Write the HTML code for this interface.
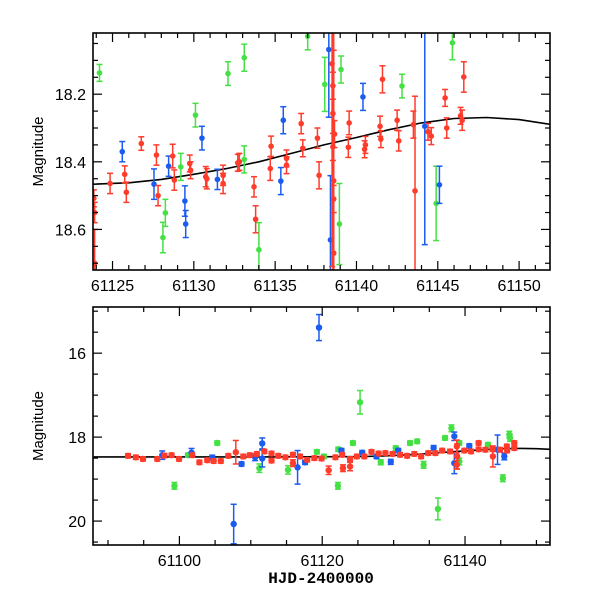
<!DOCTYPE html>
<html><head><meta charset="utf-8"><style>
body{margin:0;background:#fff;}
svg{display:block;font-family:"Liberation Sans",sans-serif;}
</style></head><body>
<svg id="chart" width="600" height="600" xmlns="http://www.w3.org/2000/svg"></svg>
<script>
// ---- TOP PANEL DATA ----
const topRedDays=[61123.85,61123.9,61123.9,61124.85,61125.75,61125.85,61126.77,61127.7,61127.8,61128.7,61128.8,61129.75,61129.8,61130.73,61130.8,61131.8,61131.8,61132.7,61132.8,61133.7,61133.8,61134.7,61134.75,61135.7,61135.7,61136.6,61136.7,61137.6,61137.7,61138.5,61138.55,61138.55,61138.65,61138.55,61138.6,61138.6,61138.6,61139.55,61139.5,61140.5,61140.55,61141.45,61141.5,61141.6,61142.5,61142.6,61143.5,61143.6,61144.4,61144.6,61145.45,61145.55,61146.4,61146.5,61146.6];
const topRedMags=[18.508,18.55,18.70,18.464,18.437,18.49,18.346,18.38,18.50,18.383,18.454,18.405,18.425,18.444,18.45,18.44,18.464,18.403,18.40,18.474,18.57,18.42,18.354,18.41,18.39,18.287,18.36,18.33,18.44,18.11,18.175,18.257,18.318,18.356,18.456,18.51,18.67,18.285,18.357,18.363,18.35,18.295,18.333,18.156,18.277,18.338,18.29,18.486,18.311,18.324,18.211,18.30,18.264,18.277,18.149];
const topRedErrs=[0.025,0.03,0.1,0.03,0.025,0.03,0.02,0.03,0.03,0.035,0.03,0.025,0.025,0.03,0.03,0.03,0.03,0.025,0.025,0.03,0.04,0.035,0.03,0.025,0.025,0.03,0.025,0.03,0.04,0.6,0.04,0.6,0.04,0.04,0.6,0.04,0.6,0.035,0.03,0.025,0.025,0.03,0.025,0.04,0.03,0.03,0.04,0.28,0.025,0.025,0.025,0.03,0.025,0.03,0.045];
const topBlueDays=[61125.6,61127.55,61128.45,61129.45,61129.5,61130.5,61131.45,61135.35,61135.5,61138.3,61138.4,61140.4,61144.2,61145.1];
const topBlueMags=[18.37,18.466,18.413,18.516,18.584,18.33,18.452,18.457,18.277,18.068,18.631,18.208,18.295,18.468];
const topBlueErrs=[0.03,0.045,0.03,0.045,0.04,0.035,0.03,0.04,0.04,0.2,0.19,0.04,0.35,0.055];
const topGreenDays=[61124.2,61128.1,61128.25,61129.2,61130.1,61132.1,61133.1,61133.1,61134.0,61137.0,61138.05,61139.05,61138.95,61142.8,61144.9,61145.9];
const topGreenMags=[18.137,18.624,18.551,18.415,18.262,18.139,18.092,18.393,18.66,18.029,18.171,18.127,18.584,18.176,18.523,18.048];
const topGreenErrs=[0.025,0.045,0.04,0.04,0.035,0.035,0.04,0.04,0.08,0.04,0.08,0.04,0.12,0.035,0.11,0.05];
// ---- BOTTOM PANEL DATA ----
const botRedDays=[61092.8,61093.9,61094.9,61096.9,61097.9,61098.9,61099.95,61101.8,61102.8,61103.9,61104.8,61105.8,61106.85,61107.9,61108.95,61109.85,61110.85,61111.9,61112.9,61112.9,61113.85,61114.85,61115.9,61115.9,61116.9,61117.9,61118.9,61119.9,61120.9,61121.85,61122.8,61122.9,61123.9,61123.9,61124.85,61125.9,61126.9,61127.9,61128.85,61129.85,61130.9,61131.9,61132.9,61133.85,61134.85,61135.85,61136.8,61137.9,61138.85,61138.9,61138.85,61139.9,61140.85,61141.9,61141.9,61142.85,61143.85,61143.9,61144.9,61145.85,61145.9,61146.9,61146.9];
const botRedMags=[18.445,18.48,18.52,18.52,18.44,18.43,18.52,18.43,18.6,18.55,18.57,18.57,18.445,18.36,18.46,18.43,18.4,18.34,18.39,18.56,18.445,18.48,18.42,18.62,18.46,18.54,18.5,18.51,18.79,18.48,18.42,18.74,18.52,18.7,18.46,18.46,18.35,18.39,18.38,18.4,18.42,18.445,18.4,18.46,18.38,18.38,18.32,18.34,18.22,18.46,18.66,18.32,18.34,18.29,18.14,18.3,18.29,18.46,18.3,18.22,18.32,18.26,18.14];
const botRedErrs=[0.05,0.05,0.05,0.05,0.05,0.05,0.05,0.05,0.05,0.05,0.05,0.05,0.05,0.28,0.05,0.05,0.05,0.05,0.05,0.05,0.05,0.05,0.05,0.08,0.05,0.05,0.05,0.05,0.1,0.05,0.05,0.08,0.05,0.1,0.05,0.05,0.05,0.05,0.05,0.05,0.05,0.05,0.05,0.05,0.05,0.05,0.05,0.05,0.15,0.3,0.1,0.05,0.05,0.05,0.05,0.05,0.05,0.25,0.05,0.05,0.05,0.05,0.05];
const botBlueDays=[61097.6,61101.7,61104.6,61107.6,61108.7,61110.6,61111.6,61111.6,61116.55,61117.6,61119.55,61122.7,61125.6,61127.6,61129.6,61130.65,61135.6,61138.5,61138.5,61140.6,61144.55,61145.5];
const botBlueMags=[18.43,18.37,18.49,20.07,18.64,18.48,18.15,18.51,18.72,18.6,15.39,18.32,18.37,18.46,18.59,18.32,18.26,18.62,17.98,18.21,18.3,18.46];
const botBlueErrs=[0.1,0.1,0.06,0.47,0.05,0.08,0.13,0.2,0.4,0.05,0.31,0.05,0.05,0.05,0.06,0.05,0.06,0.25,0.1,0.05,0.35,0.08];
const botGreenDays=[61099.3,61101.2,61105.3,61111.2,61115.2,61119.25,61120.25,61122.25,61122.2,61124.3,61125.3,61128.2,61130.3,61132.3,61133.3,61134.2,61136.2,61137.2,61138.1,61139.2,61139.2,61143.2,61145.3,61146.2,61146.3];
const botGreenMags=[19.16,18.43,18.14,18.74,18.78,18.35,18.46,18.29,19.16,18.14,17.17,18.6,18.26,18.14,18.1,18.66,19.71,18.02,17.79,18.14,18.58,18.18,18.98,17.94,18.02];
const botGreenErrs=[0.08,0.05,0.05,0.1,0.1,0.05,0.05,0.05,0.08,0.05,0.28,0.06,0.05,0.05,0.05,0.08,0.26,0.05,0.08,0.05,0.08,0.05,0.08,0.08,0.08];
// ---- MODEL CURVE ----
const modelDays=[61088,61100,61110,61118,61122,61124,61126,61128,61130,61132,61134,61136,61138,61140,61142,61144,61146,61148,61150,61152];
const modelMags=[18.47,18.47,18.47,18.469,18.467,18.466,18.462,18.452,18.437,18.42,18.40,18.375,18.35,18.328,18.305,18.285,18.272,18.269,18.275,18.29];
const topXTicks=[61125,61130,61135,61140,61145,61150];
const topYTicks=[18.2,18.4,18.6];
const botXTicks=[61100,61120,61140];
const botYTicks=[16,18,20];

const NS="http://www.w3.org/2000/svg";
const svg=document.getElementById('chart');
function mk(tag,attrs,parent){const e=document.createElementNS(NS,tag);for(const k in attrs)e.setAttribute(k,attrs[k]);(parent||svg).appendChild(e);return e;}
const RED="#ff3b2b",BLUE="#1a5cf0",GREEN="#44e044";

function panel(cfg){
  const {x0,x1,y0,y1,dmin,dmax,mtop,mbot,name}=cfg;
  const sx=d=>x0+(d-dmin)/(dmax-dmin)*(x1-x0);
  const sy=m=>y0+(m-mtop)/(mbot-mtop)*(y1-y0);
  const g=mk('g',{});
  
  
  const cid='clip-'+name;
  const cp=mk('clipPath',{id:cid},g);mk('rect',{x:x0,y:y0,width:x1-x0,height:y1-y0},cp);
  const pg=mk('g',{'clip-path':'url(#'+cid+')'},g);
  let pts=modelDays.map((d,i)=>sx(d).toFixed(1)+','+sy(modelMags[i]).toFixed(1)).join(' ');
  const ml=mk('polyline',{points:pts,fill:'none',stroke:'#000','stroke-width':1.6},pg);
  
  
  function series(days,mags,errs,col,sname){
    const sg=mk('g',{},pg);
    
    
    days.forEach((d,i)=>{
      const x=sx(d),y=sy(mags[i]),ya=sy(mags[i]-errs[i]),yb=sy(mags[i]+errs[i]);
      mk('line',{x1:x,x2:x,y1:ya,y2:yb,stroke:col,'stroke-width':1.5},sg);
      mk('line',{x1:x-3,x2:x+3,y1:ya,y2:ya,stroke:col,'stroke-width':1.5},sg);
      mk('line',{x1:x-3,x2:x+3,y1:yb,y2:yb,stroke:col,'stroke-width':1.5},sg);
      const c=mk('circle',{cx:x,cy:y,r:cfg.r,fill:col},sg);
      
      
    });
  }
  cfg.series.forEach(s=>series(...s));
  mk('rect',{x:x0,y:y0,width:x1-x0,height:y1-y0,fill:'none',stroke:'#000','stroke-width':1.6},g);
  for(let d=Math.ceil(dmin/cfg.xminor)*cfg.xminor;d<=dmax;d+=cfg.xminor){
    const x=sx(d);const major=Math.abs(d/cfg.xmajor-Math.round(d/cfg.xmajor))<1e-6;const L=major?9:5;
    mk('line',{x1:x,x2:x,y1:y1,y2:y1-L,stroke:'#000','stroke-width':1.2},g);
    mk('line',{x1:x,x2:x,y1:y0,y2:y0+L,stroke:'#000','stroke-width':1.2},g);
  }
  cfg.xticks.forEach(d=>{const t=mk('text',{x:sx(d),y:y1+21,'text-anchor':'middle','font-size':16},g);t.textContent=d;
    });
  const ystart=Math.ceil(mtop/cfg.yminor-1e-6)*cfg.yminor;
  for(let m=ystart;m<=mbot+1e-6;m+=cfg.yminor){
    const y=sy(m);const major=Math.abs(m/cfg.ymajor-Math.round(m/cfg.ymajor))<1e-6;const L=major?9:5;
    mk('line',{x1:x0,x2:x0+L,y1:y,y2:y,stroke:'#000','stroke-width':1.2},g);
    mk('line',{x1:x1,x2:x1-L,y1:y,y2:y,stroke:'#000','stroke-width':1.2},g);
  }
  cfg.yticks.forEach(m=>{const t=mk('text',{x:x0-7,y:sy(m)+6,'text-anchor':'end','font-size':16},g);t.textContent=m.toFixed(cfg.ydec);
    });
  const yl=mk('text',{x:0,y:0,transform:`translate(${x0-50},${(y0+y1)/2}) rotate(-90)`,'text-anchor':'middle','font-size':15},g);
  yl.textContent='Magnitude';
  
  
}
panel({name:'top-panel',x0:93,x1:550,y0:33,y1:270,dmin:61123.8,dmax:61151.9,mtop:18.019,mbot:18.72,r:2.8,
  xmajor:5,xminor:1,ymajor:0.2,yminor:0.05,ydec:1,xticks:topXTicks,yticks:topYTicks,
  series:[[topGreenDays,topGreenMags,topGreenErrs,GREEN,'green-series'],[topBlueDays,topBlueMags,topBlueErrs,BLUE,'blue-series'],[topRedDays,topRedMags,topRedErrs,RED,'red-series']]});
panel({name:'bottom-panel',x0:93,x1:550,y0:307,y1:545,dmin:61087.9,dmax:61151.9,mtop:14.9,mbot:20.57,r:3.2,
  xmajor:20,xminor:5,ymajor:2,yminor:0.5,ydec:0,xticks:botXTicks,yticks:botYTicks,
  series:[[botGreenDays,botGreenMags,botGreenErrs,GREEN,'green-series'],[botBlueDays,botBlueMags,botBlueErrs,BLUE,'blue-series'],[botRedDays,botRedMags,botRedErrs,RED,'red-series']]});
const xt=mk('text',{x:321,y:583,'text-anchor':'middle','font-size':16,'font-family':'Liberation Mono, monospace','font-weight':'bold'});
xt.textContent='HJD-2400000';


</script>
</body></html>
